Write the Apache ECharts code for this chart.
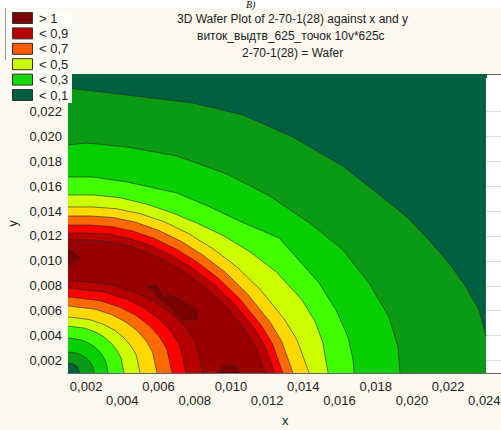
<!DOCTYPE html>
<html><head><meta charset="utf-8">
<script src="https://cdn.jsdelivr.net/npm/echarts@6/dist/echarts.min.js"></script>
<style>html,body{margin:0;padding:0;background:#fbf8ef;}#c{width:501px;height:430px;}</style>
</head><body><div id="c"></div><script>
// ---- titles ----
const titleLines = ['3D Wafer Plot of 2-70-1(28) against x and y', 'виток_выдтв_625_точок 10v*625c', '2-70-1(28) = Wafer'];
const figureMark = 'В)';
const xName = 'x', yName = 'y';
// ---- axes ----
const xTicks = [0.002,0.004,0.006,0.008,0.010,0.012,0.014,0.016,0.018,0.020,0.022,0.024];
const xTickLabels = ['0,002','0,004','0,006','0,008','0,010','0,012','0,014','0,016','0,018','0,020','0,022','0,024'];
const yTicks = [0.002,0.004,0.006,0.008,0.010,0.012,0.014,0.016,0.018,0.020,0.022];
const yTickLabels = ['0,002','0,004','0,006','0,008','0,010','0,012','0,014','0,016','0,018','0,020','0,022'];
const dataXRange = [0.001, 0.02409];
const dataYRange = [0.001, 0.025];
// ---- legend ----
const legendLabels = ['> 1','< 0,9','< 0,7','< 0,5','< 0,3','< 0,1'];
const legendColors = ['#7c0000','#b80000','#ff5a00','#ccff00','#12d800','#00603f'];
// ---- band colours: >=0, >=0.1, ... , >=0.9, >1 ----
const bandColors = ['#00603f','#0a9a14','#08cf00','#40ff00','#ccff00','#ffd800','#ff6a00','#ff0000','#b80000','#990000','#7c0000'];
// ---- contour lines (outer: from left edge to bottom/right edge; inner: from bottom edge to left edge) ----
const outer01 = [[0.00100,0.02388],[0.00426,0.02331],[0.00791,0.02267],[0.01067,0.02171],[0.01343,0.01994],[0.01619,0.01760],[0.01807,0.01545],[0.01973,0.01352],[0.02094,0.01168],[0.02205,0.00983],[0.02299,0.00790],[0.02371,0.00606],[0.02409,0.00397]];
const inner01 = [[0.00166,0.00100],[0.00152,0.00150],[0.00133,0.00170],[0.00100,0.00180]];
const outer02 = [[0.00100,0.01930],[0.00205,0.01946],[0.00426,0.01914],[0.00702,0.01842],[0.00978,0.01697],[0.01205,0.01529],[0.01443,0.01296],[0.01619,0.01087],[0.01763,0.00822],[0.01873,0.00550],[0.01923,0.00309],[0.01934,0.00100]];
const inner02 = [[0.00244,0.00100],[0.00236,0.00153],[0.00226,0.00180],[0.00212,0.00206],[0.00193,0.00228],[0.00172,0.00246],[0.00143,0.00261],[0.00100,0.00269]];
const outer03 = [[0.00100,0.01673],[0.00238,0.01673],[0.00426,0.01633],[0.00702,0.01545],[0.00885,0.01432],[0.01034,0.01328],[0.01266,0.01184],[0.01360,0.01031],[0.01487,0.00822],[0.01581,0.00606],[0.01647,0.00389],[0.01675,0.00204],[0.01680,0.00100]];
const inner03 = [[0.00321,0.00100],[0.00310,0.00188],[0.00294,0.00233],[0.00272,0.00276],[0.00244,0.00313],[0.00211,0.00343],[0.00166,0.00368],[0.00100,0.00381]];
const outer04 = [[0.00100,0.01529],[0.00244,0.01529],[0.00387,0.01507],[0.00531,0.01457],[0.00675,0.01386],[0.00818,0.01300],[0.00962,0.01200],[0.01106,0.01072],[0.01249,0.00914],[0.01393,0.00686],[0.01465,0.00514],[0.01508,0.00343],[0.01537,0.00100]];
const inner04 = [[0.00409,0.00100],[0.00394,0.00218],[0.00372,0.00279],[0.00341,0.00336],[0.00301,0.00387],[0.00255,0.00427],[0.00193,0.00460],[0.00100,0.00477]];
const outer05 = [[0.00100,0.01433],[0.00233,0.01433],[0.00366,0.01419],[0.00499,0.01379],[0.00633,0.01313],[0.00766,0.01219],[0.00899,0.01099],[0.01032,0.00953],[0.01165,0.00766],[0.01298,0.00526],[0.01365,0.00367],[0.01432,0.00100]];
const inner05 = [[0.00498,0.00100],[0.00478,0.00240],[0.00450,0.00314],[0.00410,0.00381],[0.00359,0.00442],[0.00299,0.00489],[0.00219,0.00529],[0.00100,0.00550]];
const outer06 = [[0.00100,0.01360],[0.00224,0.01360],[0.00349,0.01348],[0.00473,0.01310],[0.00597,0.01247],[0.00722,0.01159],[0.00846,0.01045],[0.00970,0.00907],[0.01094,0.00730],[0.01219,0.00503],[0.01281,0.00352],[0.01343,0.00100]];
const inner06 = [[0.00592,0.00100],[0.00567,0.00268],[0.00533,0.00355],[0.00484,0.00437],[0.00420,0.00509],[0.00346,0.00566],[0.00248,0.00613],[0.00100,0.00638]];
const outer07 = [[0.00100,0.01288],[0.00219,0.01288],[0.00338,0.01276],[0.00456,0.01240],[0.00575,0.01181],[0.00694,0.01098],[0.00813,0.00991],[0.00931,0.00860],[0.01050,0.00694],[0.01169,0.00480],[0.01228,0.00338],[0.01288,0.00100]];
const inner07 = [[0.00675,0.00100],[0.00646,0.00290],[0.00606,0.00390],[0.00548,0.00482],[0.00473,0.00564],[0.00387,0.00628],[0.00272,0.00682],[0.00100,0.00710]];
const outer08 = [[0.00100,0.01224],[0.00214,0.01224],[0.00329,0.01213],[0.00443,0.01179],[0.00557,0.01123],[0.00672,0.01044],[0.00786,0.00943],[0.00901,0.00819],[0.01015,0.00662],[0.01129,0.00460],[0.01186,0.00325],[0.01244,0.00100]];
const inner08 = [[0.00752,0.00100],[0.00719,0.00313],[0.00674,0.00424],[0.00608,0.00527],[0.00524,0.00619],[0.00426,0.00691],[0.00296,0.00751],[0.00100,0.00782]];
const outer09 = [[0.00100,0.01168],[0.00209,0.01168],[0.00318,0.01157],[0.00427,0.01125],[0.00535,0.01072],[0.00644,0.00997],[0.00753,0.00901],[0.00862,0.00783],[0.00971,0.00634],[0.01080,0.00442],[0.01134,0.00314],[0.01188,0.00100]];
const inner09 = [[0.00846,0.00100],[0.00809,0.00333],[0.00756,0.00455],[0.00682,0.00567],[0.00585,0.00667],[0.00473,0.00746],[0.00324,0.00812],[0.00100,0.00847]];
// ---- areas above 1 ----
const peakA = [[0.00100,0.01095],[0.00133,0.01071],[0.00166,0.01023],[0.00133,0.00991],[0.00100,0.00959]];
const peakB = [[0.00536,0.00790],[0.00592,0.00806],[0.00625,0.00710],[0.00664,0.00726],[0.00719,0.00686],[0.00813,0.00606],[0.00813,0.00525],[0.00735,0.00525],[0.00664,0.00630],[0.00608,0.00686],[0.00570,0.00766]];
const peakC = [[0.00934,0.00100],[0.00951,0.00148],[0.00990,0.00164],[0.01028,0.00156],[0.01050,0.00100]];

const outers = [outer01,outer02,outer03,outer04,outer05,outer06,outer07,outer08,outer09];
const inners = [inner01,inner02,inner03,inner04,inner05,inner06,inner07,inner08,inner09];
const bands = [{base:true}];
for (let k = 0; k < outers.length; k++) bands.push({outer: outers[k], inner: inners[k]});
bands.push({peaks: [peakA, peakB, peakC]});

const lineColor = 'rgba(35,35,35,0.85)';
const FONT = 'Liberation Sans, Arial, sans-serif';

function pts(api, arr) { return arr.map(p => api.coord(p)); }

function renderItem(params, api) {
  const i = api.value(0);
  const b = bands[i];
  const col = bandColors[i];
  const ch = [];
  if (b.base) {
    const r = [[dataXRange[0],dataYRange[0]],[dataXRange[1],dataYRange[0]],[dataXRange[1],dataYRange[1]],[dataXRange[0],dataYRange[1]]];
    ch.push({type:'polygon', shape:{points: pts(api, r)}, style:{fill: col}});
  } else if (b.peaks) {
    b.peaks.forEach(p => ch.push({type:'polygon', shape:{points: pts(api, p)}, style:{fill: col, stroke: lineColor, lineWidth: 0.7}}));
  } else {
    let ring = b.outer.slice();
    const last = ring[ring.length-1];
    if (last[1] > dataYRange[0]) ring.push([last[0], dataYRange[0]]);
    ring = ring.concat(b.inner);
    ch.push({type:'polygon', shape:{points: pts(api, ring)}, style:{fill: col}});
    ch.push({type:'polyline', shape:{points: pts(api, b.outer)}, style:{fill: null, stroke: lineColor, lineWidth: 0.7}});
    ch.push({type:'polyline', shape:{points: pts(api, b.inner)}, style:{fill: null, stroke: lineColor, lineWidth: 0.7}});
  }
  return {type:'group', children: ch};
}

const topTicks = [];
for (let i = 0; i <= 25; i++) topTicks.push(dataXRange[0] + (dataXRange[1]-dataXRange[0]) * i / 25);

function labelFor(ticks, v) {
  let best = 0;
  for (let i = 1; i < ticks.length; i++) if (Math.abs(ticks[i]-v) < Math.abs(ticks[best]-v)) best = i;
  return best;
}

const graphics = [
  {type:'rect', z: 50, shape:{x:0, y:0, width:501, height:8}, style:{fill:'#ffffff'}},
  {type:'text', z: 51, x: 246, y: 9, style:{text: figureMark, fill:'#111', font:'italic 10px Liberation Serif, serif', verticalAlign:'bottom', align:'left'}},
  {type:'line', z: 50, shape:{x1:5.5, y1:8, x2:5.5, y2:60}, style:{stroke:'#999', lineWidth:1}},
  {type:'rect', z: 100, shape:{x:8, y:9, width:64, height:94}, style:{fill:'#fffdf8'}}
];
legendLabels.forEach((t, i) => {
  const cy = 18 + i * 15.4;
  graphics.push({type:'rect', z: 110, shape:{x:12.5, y:cy-5.5, width:20, height:11}, style:{fill: legendColors[i], stroke:'#333', lineWidth:1}});
  graphics.push({type:'text', z: 110, x:39, y:cy, style:{text: t, fill:'#222', font:'13px ' + FONT, verticalAlign:'middle', align:'left'}});
});

const chart = echarts.init(document.getElementById('c'), null, {renderer:'svg', width:501, height:430});
chart.setOption({
  backgroundColor: '#fbf8ef',
  animation: false,
  title: [
    {text: titleLines[0], left: 172, top: 8, textStyle:{fontSize:12, fontWeight:'normal', color:'#222', fontFamily: FONT}},
    {text: titleLines[1], left: 192, top: 25, textStyle:{fontSize:12, fontWeight:'normal', color:'#222', fontFamily: FONT}},
    {text: titleLines[2], left: 237, top: 42, textStyle:{fontSize:12, fontWeight:'normal', color:'#222', fontFamily: FONT}}
  ],
  grid: {left: 68, top: 74, right: -1.4, bottom: 57, show: true, backgroundColor: '#ffffff', borderWidth: 0, containLabel: false, outerBoundsMode: 'none'},
  xAxis: [{
    type: 'value', min: 0.001, max: 0.025, position: 'bottom',
    name: xName, nameLocation: 'middle', nameGap: 41,
    nameTextStyle: {fontSize: 13, color: '#222', fontFamily: FONT},
    axisLine: {show: true, lineStyle: {color: '#666', width: 1}},
    axisTick: {show: true, inside: true, length: 3, customValues: xTicks, lineStyle:{color:'#444'}},
    axisLabel: {customValues: xTicks, margin: 6, fontSize: 13, lineHeight: 14, color: '#222', fontFamily: FONT,
      formatter: (v) => { const i = labelFor(xTicks, v); return (i % 2 ? '\n' : '') + xTickLabels[i]; }},
    splitLine: {show: false}
  }, {
    type: 'value', min: 0.001, max: 0.025, position: 'top',
    axisLine: {show: true, lineStyle: {color: '#666', width: 1}},
    axisTick: {show: true, inside: true, length: 4, customValues: topTicks, lineStyle:{color:'#333'}},
    axisLabel: {show: false},
    splitLine: {show: false}
  }],
  yAxis: {
    type: 'value', min: 0.001, max: 0.025,
    name: yName, nameLocation: 'middle', nameGap: 44, nameRotate: 90,
    nameTextStyle: {fontSize: 13, color: '#222', fontFamily: FONT},
    axisLine: {show: true, lineStyle: {color: '#888', width: 1}},
    axisTick: {show: true, inside: true, length: 3, customValues: yTicks, lineStyle:{color:'#444'}},
    axisLabel: {customValues: yTicks, margin: 6, fontSize: 13, color: '#222', fontFamily: FONT,
      formatter: (v) => yTickLabels[labelFor(yTicks, v)]},
    splitLine: {show: true, lineStyle: {color: '#dedede', width: 1}}
  },
  series: [{
    type: 'custom', clip: true, renderItem: renderItem,
    data: bands.map((b, i) => [i]),
    encode: {x: -1, y: -1},
    silent: true, z: 2
  }],
  graphic: graphics
});
</script></body></html>
